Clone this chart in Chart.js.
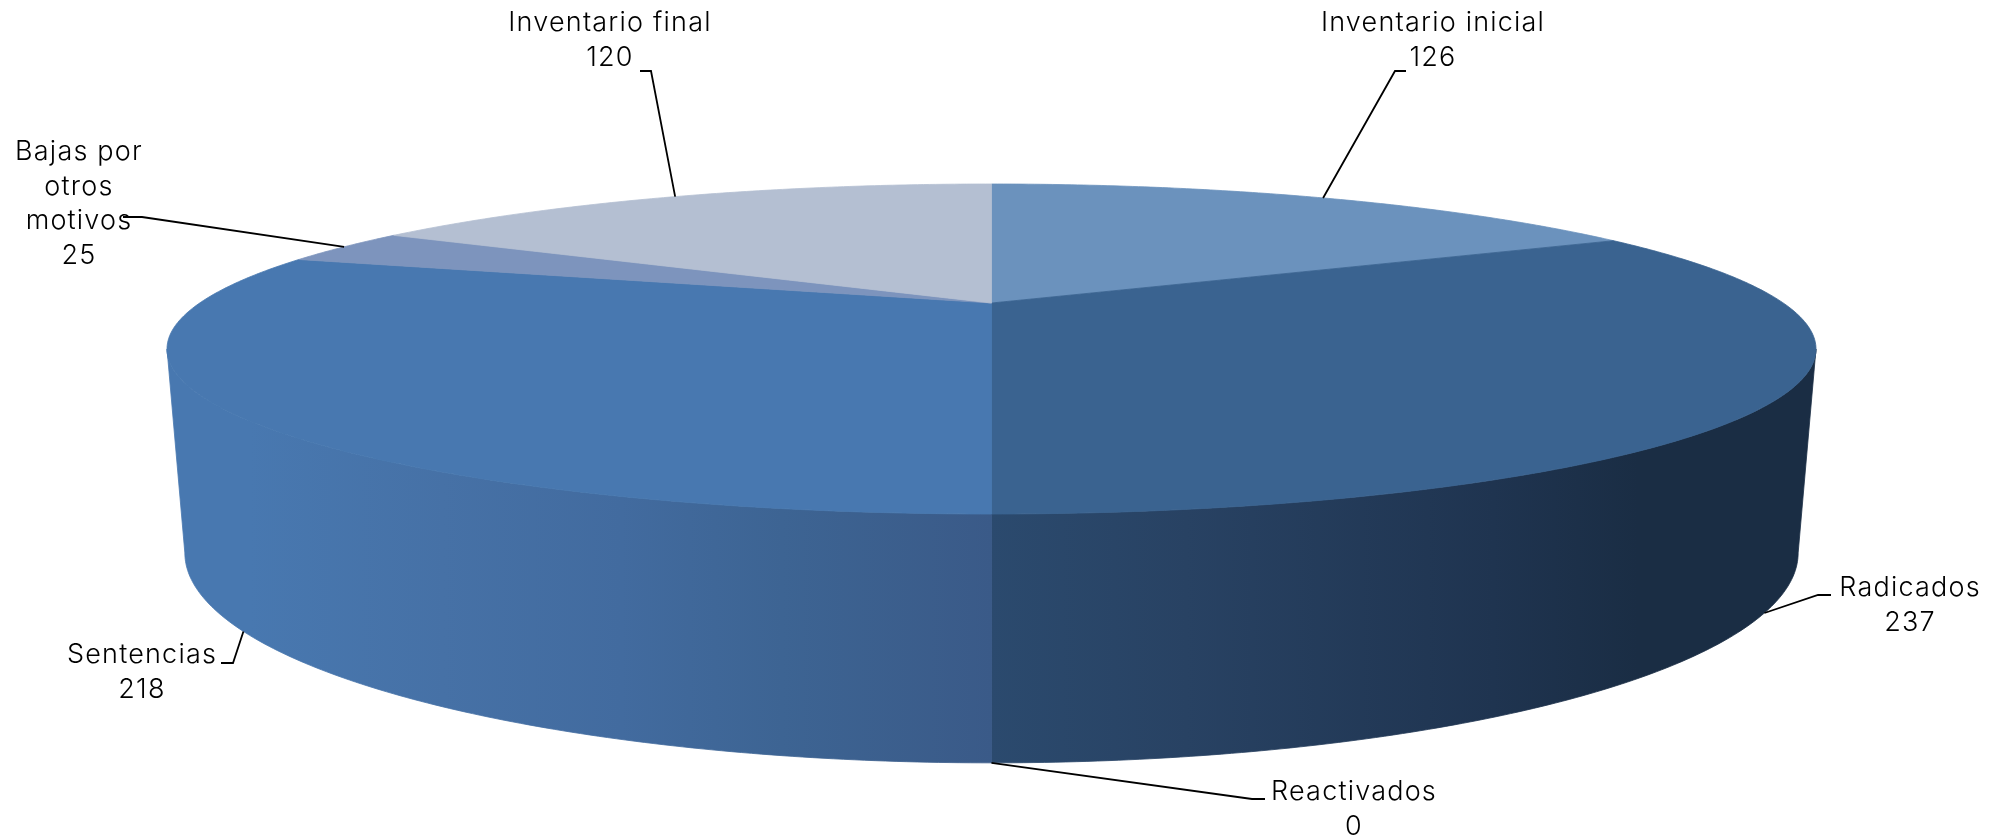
<!DOCTYPE html>
<html>
<head>
<meta charset="utf-8">
<style>
    html, body { margin: 0; padding: 0; background: #fff; overflow: hidden; }
    canvas { display: block; }
</style>
<script src="https://cdn.jsdelivr.net/npm/chart.js@4"></script>
</head>
<body>
<canvas id="pieChart" width="2014" height="838"></canvas>
<script>
const categories = ['Inventario inicial', 'Radicados', 'Reactivados', 'Sentencias', 'Bajas por otros motivos', 'Inventario final'];
const values = [126, 237, 0, 218, 25, 120];
const labelLines = [['Inventario inicial'], ['Radicados'], ['Reactivados'], ['Sentencias'], ['Bajas por', 'otros', 'motivos'], ['Inventario final']];

const topColors = ['#6b92bd', '#3a6390', '#3a6390', '#4878b0', '#7d94bd', '#b4bfd2'];

// layout of the labels: centre x, first baseline, leader start and knee
const labelBoxes = [
    { x: 1433, y: 31, from: [1406, 71], knee: [1395, 71] },
    { x: 1910, y: 596, from: [1831, 595], knee: [1818, 595] },
    { x: 1354, y: 800, from: [1265, 799], knee: [1252, 799] },
    { x: 142, y: 663, from: [221, 663], knee: [233, 663] },
    { x: 79, y: 160, from: [123, 217], knee: [142, 217] },
    { x: 610, y: 31, from: [640, 71], knee: [651, 71] }
];

// projection of the flat pie onto the tilted disc, top face and bottom face
const topFace = { cx: 991.5, rx: 791.8, k: 0.2788, a: 67.7, b: 303 };
const bottomFace = { cx: 991.5, rx: 776, k: 0.273, a: 59, b: 495.6 };

function project(face, angle) {
    const u = Math.sin(angle);
    const d = -Math.cos(angle);
    const w = 1 - face.k * d;
    return [face.cx + face.rx * u / w, (face.a * d + face.b) / w];
}

function traceArc(ctx, face, from, to, moveFirst) {
    const steps = Math.max(2, Math.ceil(Math.abs(to - from) / 0.01));
    for (let i = 0; i <= steps; i++) {
        const p = project(face, from + (to - from) * i / steps);
        if (i === 0 && moveFirst) ctx.moveTo(p[0], p[1]);
        else ctx.lineTo(p[0], p[1]);
    }
}

// the wall shows only between the two points where the rim is widest
function visibleRange(face, from, to) {
    const edge = Math.acos(-face.k);
    return [Math.max(from, edge), Math.min(to, 2 * Math.PI - edge)];
}

function wallFill(ctx, index, color) {
    const g = ctx.createLinearGradient(185, 0, 1800, 0);
    if (index === 1 || index === 2) {
        g.addColorStop(0.499, '#2b4a6e');
        g.addColorStop(0.62, '#284263');
        g.addColorStop(0.81, '#1f3450');
        g.addColorStop(0.90, '#1a2d44');
        g.addColorStop(1, '#1a2d44');
        return g;
    }
    if (index === 3) {
        g.addColorStop(0.04, '#4878b0');
        g.addColorStop(0.16, '#4671a6');
        g.addColorStop(0.27, '#426b9f');
        g.addColorStop(0.37, '#3d6493');
        g.addColorStop(0.5, '#3a5a88');
        return g;
    }
    return color;
}

const pie3d = {
    id: 'pie3d',
    beforeDatasetsDraw(chart) {
        const ctx = chart.ctx;
        const arcs = chart.getDatasetMeta(0).data;
        const colors = chart.data.datasets[0].backgroundColor;
        ctx.save();
        ctx.lineWidth = 0.8;
        arcs.forEach((arc, i) => {
            const from = arc.startAngle + Math.PI / 2;
            const to = arc.endAngle + Math.PI / 2;
            const t = visibleRange(topFace, from, to);
            const b = visibleRange(bottomFace, from, to);
            if (t[1] - t[0] < 0.0001 || b[1] - b[0] < 0.0001) return;
            ctx.beginPath();
            traceArc(ctx, topFace, t[0], t[1], true);
            traceArc(ctx, bottomFace, b[1], b[0], false);
            ctx.closePath();
            ctx.fillStyle = ctx.strokeStyle = wallFill(ctx, i, colors[i]);
            ctx.fill();
            ctx.stroke();
        });
        arcs.forEach((arc, i) => {
            const from = arc.startAngle + Math.PI / 2;
            const to = arc.endAngle + Math.PI / 2;
            if (to - from < 0.0001) return;
            ctx.beginPath();
            ctx.moveTo(topFace.cx, topFace.b);
            traceArc(ctx, topFace, from, to, false);
            ctx.closePath();
            ctx.fillStyle = ctx.strokeStyle = colors[i];
            ctx.fill();
            ctx.stroke();
        });
        ctx.restore();
        return false;
    },
    afterDraw(chart) {
        const ctx = chart.ctx;
        const arcs = chart.getDatasetMeta(0).data;
        ctx.save();
        ctx.font = '300 27px Inter';
        ctx.letterSpacing = '1.2px';
        ctx.fillStyle = '#000';
        ctx.textAlign = 'center';
        ctx.textBaseline = 'alphabetic';
        arcs.forEach((arc, i) => {
            const box = labelBoxes[i];
            const mid = (arc.startAngle + arc.endAngle) / 2 + Math.PI / 2;
            // front slices hook onto the bottom rim, back slices onto the top rim
            const tip = project(Math.cos(mid) < 0 ? bottomFace : topFace, mid);
            ctx.beginPath();
            ctx.moveTo(box.from[0], box.from[1]);
            ctx.lineTo(box.knee[0], box.knee[1]);
            ctx.lineTo(tip[0], tip[1]);
            ctx.strokeStyle = '#000';
            ctx.lineWidth = 1.8;
            ctx.stroke();

            const lines = labelLines[i].concat(String(values[i]));
            lines.forEach((line, n) => {
                ctx.fillText(line, box.x, box.y + n * 34.6);
            });
        });
        ctx.restore();
    }
};

new Chart(document.getElementById('pieChart').getContext('2d'), {
    type: 'pie',
    data: {
        labels: categories,
        datasets: [{ data: values, backgroundColor: topColors, borderWidth: 0 }]
    },
    options: {
        responsive: false,
        devicePixelRatio: 1,
        animation: false,
        plugins: {
            legend: { display: false },
            tooltip: { enabled: false }
        }
    },
    plugins: [pie3d]
});
</script>
</body>
</html>
